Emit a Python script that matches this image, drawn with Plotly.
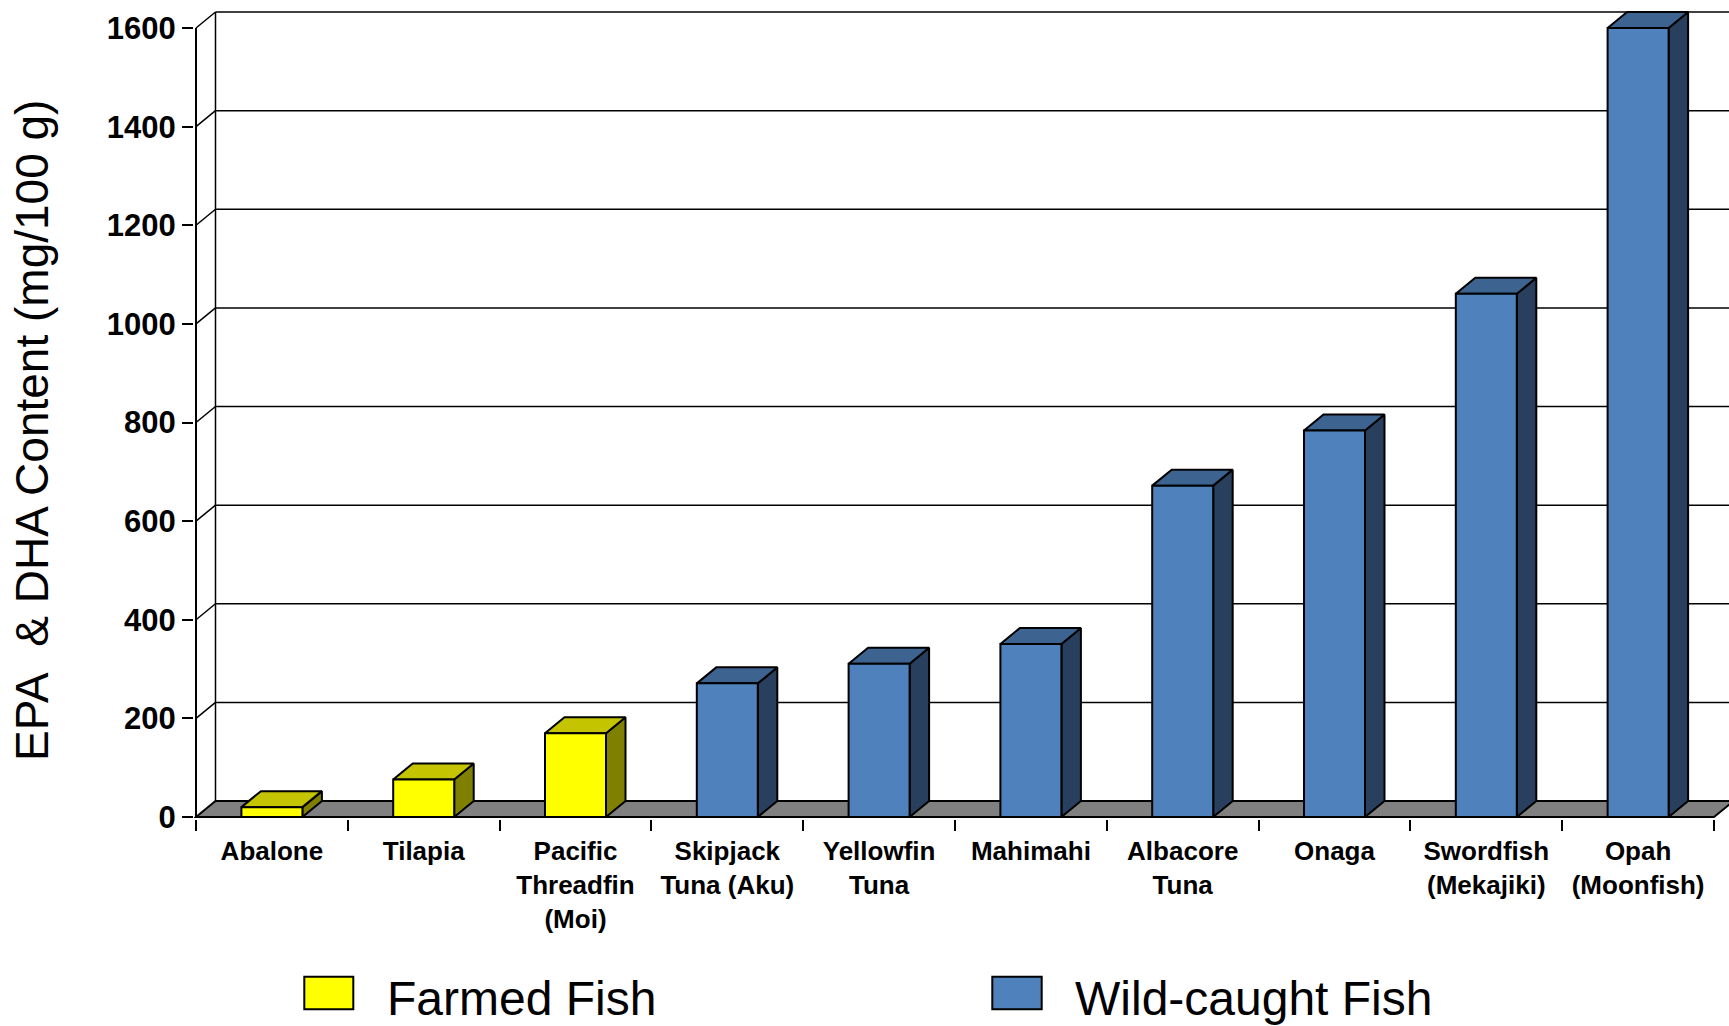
import plotly.graph_objects as go

# ---------------- data ----------------
categories = ["Abalone", "Tilapia", "Pacific<br>Threadfin<br>(Moi)", "Skipjack<br>Tuna (Aku)",
              "Yellowfin<br>Tuna", "Mahimahi", "Albacore<br>Tuna", "Onaga",
              "Swordfish<br>(Mekajiki)", "Opah<br>(Moonfish)"]
values = [20, 76, 170, 271, 311, 351, 672, 784, 1061, 1600]
groups = ["Farmed Fish"] * 3 + ["Wild-caught Fish"] * 7
y_ticks = [0, 200, 400, 600, 800, 1000, 1200, 1400, 1600]
legend_names = ["Farmed Fish", "Wild-caught Fish"]
y_title = "EPA\u00a0 & DHA Content (mg/100 g)"

# ---------------- style ----------------
colors = {
    "Farmed Fish": dict(front="#FFFF00", top="#C4C400", side="#808000"),
    "Wild-caught Fish": dict(front="#4F81BD", top="#3D6491", side="#283F5E"),
}
FONT = "Liberation Sans, Arial, sans-serif"
W, H = 1729, 1026
L, R, T, B = 194, 0, 8, 207          # margins (px)
XPU = 151.8                          # px per category
YPU = 0.4931                         # px per unit value
X0_PX = 196                          # pixel of x=-0.5
Y0_PX = 817                          # pixel of y=0
DX = 19.5 / XPU                      # 3D depth offset (x units)
DY = 16 / YPU                        # 3D depth offset (y units)
HW = 30.5 / XPU                      # half bar width

x_lo = -0.5 - (X0_PX - L) / XPU
x_hi = x_lo + (W - L - R) / XPU
y_lo = -((H - B) - Y0_PX) / YPU
y_hi = (Y0_PX - T) / YPU
n = len(categories)
ymax = y_ticks[-1]

def px_to_paper_x(px):
    return (px - L) / (W - L - R)

def px_to_paper_y(py):
    return ((H - B) - py) / (H - B - T)

fig = go.Figure()

# bars (3D faces)
for i, (v, g) in enumerate(zip(values, groups)):
    c = colors[g]
    x0, x1 = i - HW, i + HW
    faces = [
        ([x1, x1 + DX, x1 + DX, x1, x1], [0, DY, v + DY, v, 0], c["side"]),
        ([x0, x0 + DX, x1 + DX, x1, x0], [v, v + DY, v + DY, v, v], c["top"]),
        ([x0, x1, x1, x0, x0], [0, 0, v, v, 0], c["front"]),
    ]
    for fx, fy, col in faces:
        fig.add_trace(go.Scatter(x=fx, y=fy, mode="lines", fill="toself", fillcolor=col,
                                 line=dict(color="black", width=2), hoverinfo="skip",
                                 showlegend=False))

shapes = []
# back wall gridlines
for v in y_ticks[1:]:
    shapes.append(dict(type="line", xref="x", yref="y", x0=-0.5 + DX, x1=n - 0.5 + DX,
                       y0=v + DY, y1=v + DY, line=dict(color="black", width=1.5), layer="below"))
# side wall diagonals
for v in y_ticks[1:]:
    shapes.append(dict(type="line", xref="x", yref="y", x0=-0.5, x1=-0.5 + DX,
                       y0=v, y1=v + DY, line=dict(color="black", width=1.5), layer="below"))
# back wall left edge
shapes.append(dict(type="line", xref="x", yref="y", x0=-0.5 + DX, x1=-0.5 + DX,
                   y0=DY, y1=ymax + DY, line=dict(color="black", width=1.5), layer="below"))
# front left axis edge
shapes.append(dict(type="line", xref="x", yref="y", x0=-0.5, x1=-0.5,
                   y0=0, y1=ymax, line=dict(color="black", width=2), layer="below"))
# floor
floor_path = "M {a},{b} L {c},{d} L {e},{d} L {f},{b} Z".format(
    a=-0.5, b=0, c=-0.5 + DX, d=DY, e=n - 0.5 + DX, f=n - 0.5)
shapes.append(dict(type="path", xref="x", yref="y", path=floor_path, fillcolor="#808080",
                   line=dict(color="black", width=2), layer="below"))

# legend swatches
annotations = []
leg_swatch_px = [(304.3, 353.3), (992.3, 1041.7)]
leg_text_px = [385, 1073]
for name, (sx0, sx1), tx in zip(legend_names, leg_swatch_px, leg_text_px):
    shapes.append(dict(type="rect", xref="paper", yref="paper",
                       x0=px_to_paper_x(sx0), x1=px_to_paper_x(sx1),
                       y0=px_to_paper_y(1009.3), y1=px_to_paper_y(976.7),
                       fillcolor=colors[name]["front"], line=dict(color="black", width=2)))
    annotations.append(dict(text=name, xref="paper", yref="paper", x=px_to_paper_x(tx),
                            y=px_to_paper_y(998), xanchor="left", yanchor="middle",
                            showarrow=False, font=dict(family=FONT, size=48, color="black")))

# y-axis title
annotations.append(dict(text=y_title, xref="paper", yref="y", x=px_to_paper_x(32), y=783,
                        xanchor="center", yanchor="middle", textangle=-90, showarrow=False,
                        font=dict(family=FONT, size=46, color="black")))

fig.update_layout(
    width=W, height=H,
    margin=dict(l=L, r=R, t=T, b=B, pad=0),
    paper_bgcolor="white", plot_bgcolor="white",
    showlegend=False,
    shapes=shapes, annotations=annotations,
    xaxis=dict(range=[x_lo, x_hi], tickmode="array", tickvals=list(range(n)),
               ticktext=categories, ticks="", showgrid=False, zeroline=False, showline=False,
               tickfont=dict(family=FONT, size=26, color="black", weight="bold"),
               ticklabelstandoff=14,
               minor=dict(tickmode="array", tickvals=[k - 0.5 for k in range(n + 1)],
                          ticks="outside", ticklen=11, tickwidth=2, tickcolor="black",
                          showgrid=False)),
    yaxis=dict(range=[y_lo, y_hi], tickmode="array", tickvals=y_ticks,
               ticks="outside", ticklen=11, tickwidth=2, tickcolor="black",
               showgrid=False, zeroline=False, showline=False,
               tickfont=dict(family=FONT, size=31, color="black", weight="bold"),
               ticklabelstandoff=0),
)

fig.write_html("out.html")
